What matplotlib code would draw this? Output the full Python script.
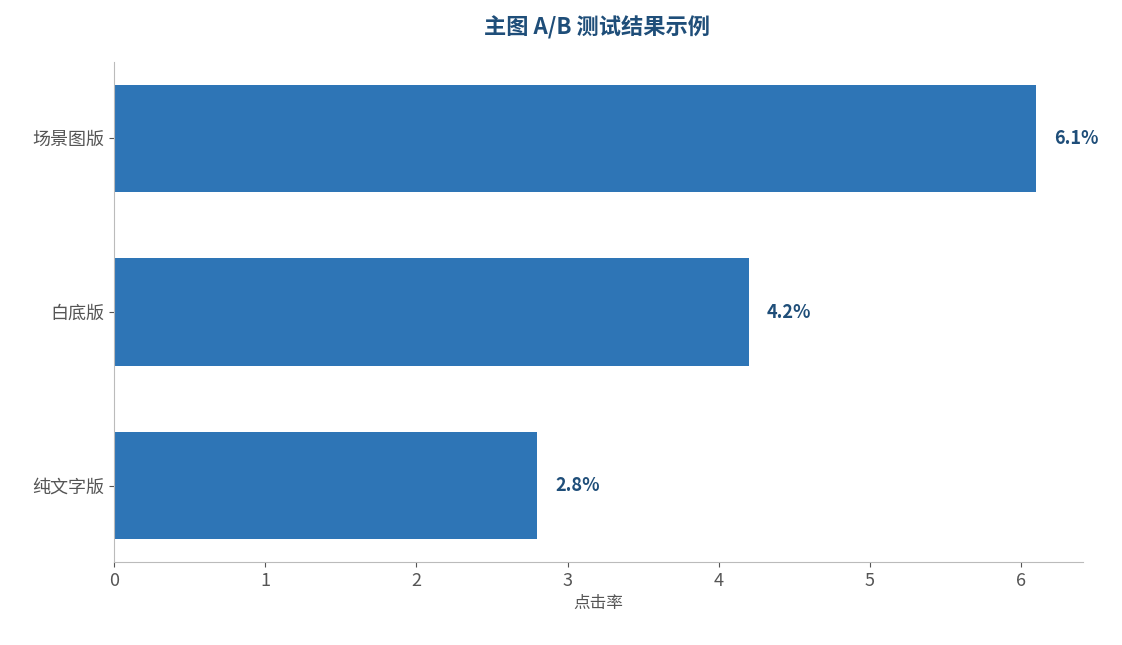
import matplotlib
matplotlib.use("Agg")
import matplotlib.pyplot as plt

plt.rcParams['font.family'] = ['Noto Sans CJK SC', 'DejaVu Sans']

categories = ['纯文字版', '白底版', '场景图版']
values = [2.8, 4.2, 6.1]
labels = ['2.8%', '4.2%', '6.1%']

fig = plt.figure(figsize=(11.22, 6.45), dpi=100)
ax = fig.add_axes([114/1122, 1-562/645, (1083-114)/1122, (562-62)/645])
ax.barh(range(len(categories)), values, height=0.62, color='#2E75B6')
for i, (v, t) in enumerate(zip(values, labels)):
    ax.text(v + 0.12, i, t, va='center', ha='left', fontsize=13, fontweight='bold', color='#1F4E79')
ax.set_yticks(range(len(categories)))
ax.set_yticklabels(categories, fontsize=13, color='#555555')
ax.set_xlim(0, 6.41)
ax.set_ylim(-0.44, 2.44)
ax.tick_params(axis='x', labelsize=13, labelcolor='#555555', color='#555555')
ax.tick_params(axis='y', color='#555555')
ax.set_xlabel('点击率', fontsize=12, color='#555555')
for s in ['top', 'right']:
    ax.spines[s].set_visible(False)
for s in ['left', 'bottom']:
    ax.spines[s].set_color('#BBBBBB')
fig.text(597/1122, 1-28/645, '主图 A/B 测试结果示例', ha='center', va='center', fontsize=16, fontweight='bold', color='#1F4E79')
fig.savefig('out.png', dpi=100)
